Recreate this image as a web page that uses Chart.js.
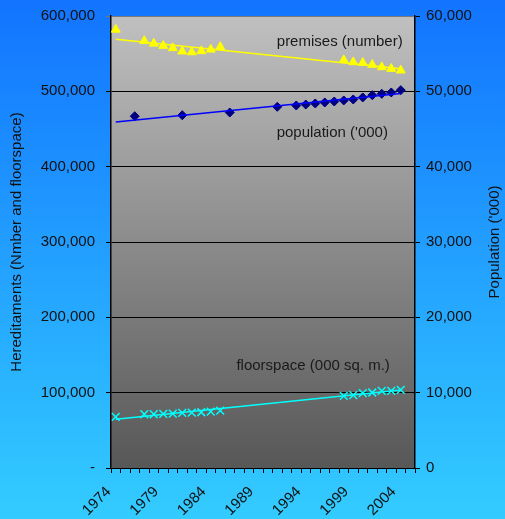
<!DOCTYPE html>
<html>
<head>
<meta charset="utf-8">
<script src="https://cdn.jsdelivr.net/npm/chart.js@4.4.1/dist/chart.umd.min.js"></script>
<style>
  html, body { margin: 0; padding: 0; background: #1f8fff; }
  #wrap { width: 505px; height: 519px; position: relative; }
</style>
</head>
<body>
<div id="wrap"><canvas id="chart"></canvas></div>
<script>
// years on the category axis
var years = [];
for (var y = 1974; y <= 2005; y++) years.push(String(y));

// premises (number), left axis
var premises = [582000, null, null, 567000, 563500, 560500, 557500, 553000, 552000, 553500, 555500, 559000,
    null, null, null, null, null, null, null, null, null, null, null, null,
    541500, 538800, 537900, 535300, 532200, 530000, 527800, null];

// population ('000), right axis
var population = [null, null, 46700, null, null, null, null, 46830, null, null, null, null,
    47190, null, null, null, null, 47940, null, 48120, 48250, 48390, 48520, 48650,
    48790, 48920, 49190, 49490, 49670, 49850, 50160, null];

// floorspace (000 sq. m.), left axis
var floorspace = [67900, null, null, 71400, 71400, 71800, 72200, 73200, 73600, 74000, 74900, 76200,
    null, null, null, null, null, null, null, null, null, null, null, null,
    95800, 96700, 99300, 100200, 102400, 102400, 103800, null];

var leftTicks = [0, 100000, 200000, 300000, 400000, 500000, 600000];
var rightTicks = [0, 10000, 20000, 30000, 40000, 50000, 60000];

// least squares line over the filled points, drawn from first to last year with data
function trend(values) {
    var xs = [], ys = [];
    values.forEach(function(v, i) { if (v !== null) { xs.push(i); ys.push(v); } });
    var n = xs.length, mx = 0, my = 0;
    for (var i = 0; i < n; i++) { mx += xs[i]; my += ys[i]; }
    mx /= n; my /= n;
    var sxy = 0, sxx = 0;
    for (var i = 0; i < n; i++) { sxy += (xs[i] - mx) * (ys[i] - my); sxx += (xs[i] - mx) * (xs[i] - mx); }
    var b = sxy / sxx, a = my - b * mx;
    var out = values.map(function() { return null; });
    var last = xs[n - 1];
    out[0] = a;
    out[last] = a + b * last;
    return out;
}

var FONT = { family: "'Liberation Sans', Arial, sans-serif", size: 15 };

var backgrounds = {
    id: 'backgrounds',
    beforeDraw: function(chart) {
        var ctx = chart.ctx, a = chart.chartArea;
        ctx.save();
        var g = ctx.createLinearGradient(0, 0, 0, chart.height);
        g.addColorStop(0, '#1274ff');
        g.addColorStop(1, '#33ccff');
        ctx.fillStyle = g;
        ctx.fillRect(0, 0, chart.width, chart.height);
        var p = ctx.createLinearGradient(0, a.top, 0, a.bottom);
        p.addColorStop(0, '#c0c0c0');
        p.addColorStop(1, '#575757');
        ctx.fillStyle = p;
        ctx.fillRect(a.left, a.top, a.right - a.left, a.bottom - a.top);
        ctx.restore();
    }
};

// series names written inside the plot, placed through the scales
var seriesNotes = [
    { text: 'premises (number)', idx: 30.2, value: 565500 },
    { text: "population ('000)", idx: 28.65, value: 445500 },
    { text: 'floorspace (000 sq. m.)', idx: 28.85, value: 136000 }
];
var notes = {
    id: 'notes',
    afterDatasetsDraw: function(chart) {
        var ctx = chart.ctx, xs = chart.scales.x, ys = chart.scales.y, a = chart.chartArea;
        var step = xs.getPixelForValue(1) - xs.getPixelForValue(0);
        ctx.save();
        ctx.font = FONT.size + 'px ' + FONT.family;
        ctx.fillStyle = '#1a1a1a';
        ctx.textAlign = 'right';
        ctx.textBaseline = 'middle';
        seriesNotes.forEach(function(n) {
            ctx.fillText(n.text, xs.getPixelForValue(0) + n.idx * step, ys.getPixelForValue(n.value));
        });
        ctx.restore();

        // right axis title, reading bottom to top
        ctx.save();
        ctx.font = FONT.size + 'px ' + FONT.family;
        ctx.fillStyle = '#111';
        ctx.textAlign = 'center';
        ctx.textBaseline = 'middle';
        ctx.translate(chart.width - 10, (a.top + a.bottom) / 2);
        ctx.rotate(-Math.PI / 2);
        ctx.fillText("Population ('000)", 0, 0);
        ctx.restore();
    }
};

function noPad(s) {
    s.paddingTop = 0; s.paddingBottom = 0; s.paddingLeft = 0; s.paddingRight = 0;
}

new Chart(document.getElementById('chart'), {
    type: 'line',
    data: {
        labels: years,
        datasets: [
            {
                data: trend(premises), borderColor: '#ffff00', borderWidth: 1.5,
                pointRadius: 0, spanGaps: true, yAxisID: 'y'
            },
            {
                data: trend(population), borderColor: '#0000ff', borderWidth: 1.5,
                pointRadius: 0, spanGaps: true, yAxisID: 'y2'
            },
            {
                data: trend(floorspace), borderColor: '#00ffff', borderWidth: 1.5,
                pointRadius: 0, spanGaps: true, yAxisID: 'y'
            },
            {
                label: 'premises (number)', data: premises, showLine: false, yAxisID: 'y',
                pointStyle: 'triangle', pointRadius: 5.2, pointBorderWidth: 1,
                pointBackgroundColor: '#ffff00', pointBorderColor: '#ffff00'
            },
            {
                label: "population ('000)", data: population, showLine: false, yAxisID: 'y2',
                pointStyle: 'rectRot', pointRadius: 4.5, pointBorderWidth: 1,
                pointBackgroundColor: '#000080', pointBorderColor: '#000080'
            },
            {
                label: 'floorspace (000 sq. m.)', data: floorspace, showLine: false, yAxisID: 'y',
                pointStyle: 'crossRot', pointRadius: 5.5, pointBorderWidth: 1.5,
                pointBorderColor: '#00ffff'
            }
        ]
    },
    options: {
        responsive: true,
        maintainAspectRatio: false,
        animation: false,
        layout: { padding: { top: 16, left: 0, right: 0, bottom: 0 } },
        plugins: { legend: { display: false }, tooltip: { enabled: false } },
        scales: {
            x: {
                type: 'category',
                offset: true,
                grid: { offset: true, drawOnChartArea: false, tickLength: 5, color: '#000', lineWidth: 1 },
                border: { color: '#000', width: 1 },
                ticks: {
                    autoSkip: false, minRotation: 45, maxRotation: 45, padding: 10, labelOffset: -7,
                    color: '#111', font: FONT,
                    callback: function(v, i) { return i % 5 === 0 ? years[i] : ''; }
                },
                afterFit: function(s) { s.height = 51; noPad(s); }
            },
            y: {
                position: 'left',
                min: 0, max: 600000,
                afterBuildTicks: function(s) { s.ticks = leftTicks.map(function(v) { return { value: v }; }); },
                grid: {
                    tickLength: 5, lineWidth: 1,
                    color: function(c) { return c.tick && c.tick.value === 600000 ? '#7a7a7a' : '#000'; }
                },
                border: { color: '#000', width: 1.5 },
                ticks: {
                    padding: 11, color: '#111', font: FONT,
                    callback: function(v) { return v === 0 ? '-' : v.toLocaleString('en-US'); }
                },
                title: {
                    display: true, text: 'Hereditaments (Nmber and floorspace)',
                    color: '#111', font: FONT, padding: { top: 8, bottom: 0 }
                },
                afterFit: function(s) { s.width = 111; noPad(s); }
            },
            y2: {
                position: 'right',
                min: 0, max: 60000,
                afterBuildTicks: function(s) { s.ticks = rightTicks.map(function(v) { return { value: v }; }); },
                grid: { drawOnChartArea: false, tickLength: 5, color: '#000', lineWidth: 1 },
                border: { color: '#000', width: 1.5 },
                ticks: {
                    padding: 6, color: '#111', font: FONT,
                    callback: function(v) { return v.toLocaleString('en-US'); }
                },
                afterFit: function(s) { s.width = 90; noPad(s); }
            }
        }
    },
    plugins: [backgrounds, notes]
});
</script>
</body>
</html>
